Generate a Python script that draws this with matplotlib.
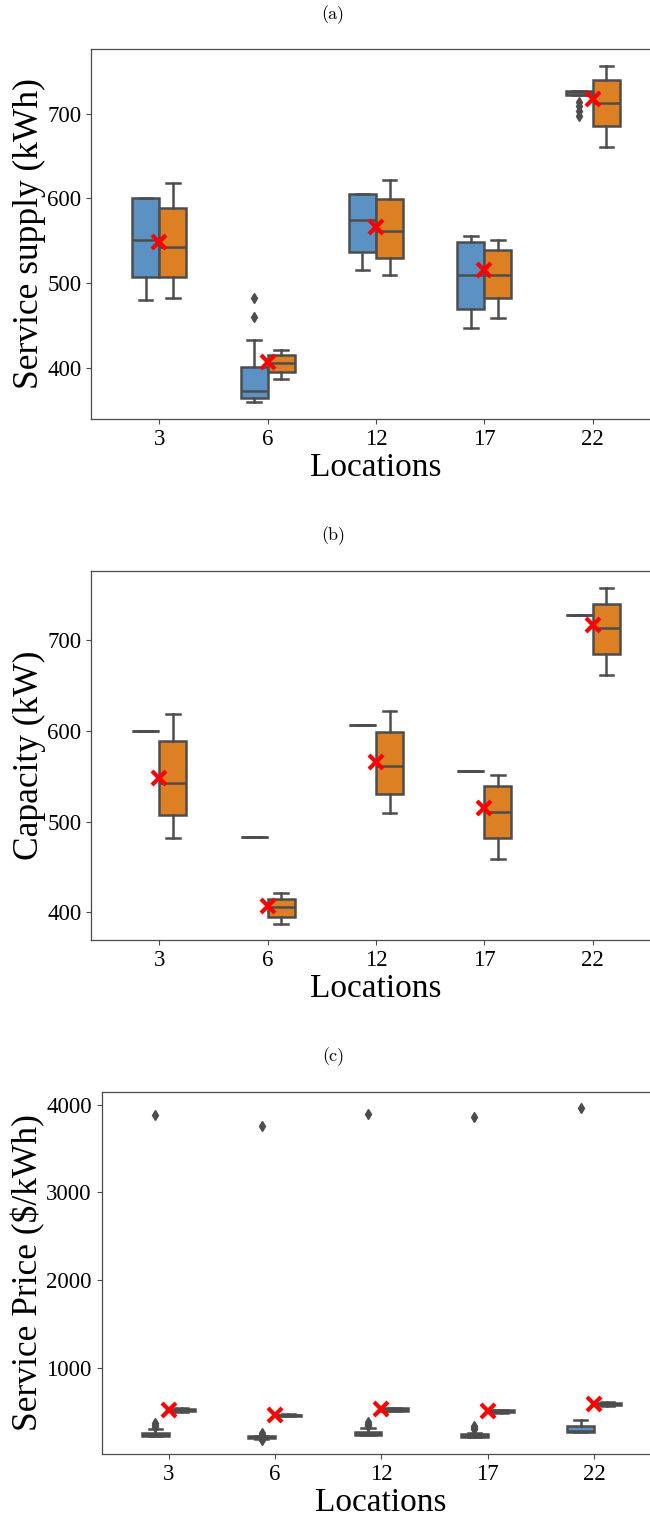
import matplotlib
matplotlib.use("Agg")
import matplotlib.pyplot as plt
import numpy as np

# ---------------- data ----------------
locations = ["3", "6", "12", "17", "22"]

# (a) Service supply (kWh) -- first (blue) series
supply_blue_whislo = [480, 360, 515, 447, 722.5]
supply_blue_q1 = [507, 364, 537, 470, 722.5]
supply_blue_med = [551, 372, 574, 510, 726]
supply_blue_q3 = [600, 401, 605, 549, 726.5]
supply_blue_whishi = [600, 433, 605, 556, 726.5]
supply_blue_fliers = [[], [460, 482], [], [], [697, 703, 709, 714]]

# (a)/(b) second (orange) series
orange_whislo = [482, 387, 509, 459, 661]
orange_q1 = [507, 395, 530, 482, 685]
orange_med = [543, 406, 561, 510, 713]
orange_q3 = [589, 415, 599, 539, 740]
orange_whishi = [618, 421, 622, 551, 757]
orange_fliers = [[], [], [], [], []]
orange_mean = [548, 407, 566, 515, 717]

# (b) Capacity (kW) -- blue series is constant per location
capacity_blue = [600, 483, 606, 556, 727]

# (c) Service Price ($/kWh)
price_blue_whislo = [230, 195, 235, 218, 275]
price_blue_q1 = [230, 198, 235, 218, 275]
price_blue_med = [240, 210, 245, 230, 282]
price_blue_q3 = [262, 222, 272, 245, 335]
price_blue_whishi = [309, 228, 316, 255, 411]
price_blue_fliers = [[330, 350, 370, 3886], [180, 240, 255, 3753],
                     [340, 360, 380, 3894], [300, 320, 340, 3856], [3962]]
price_orange_whislo = [500, 452, 505, 490, 570]
price_orange_q1 = [505, 455, 510, 495, 575]
price_orange_med = [520, 462, 525, 505, 590]
price_orange_q3 = [538, 468, 540, 520, 605]
price_orange_whishi = [545, 472, 548, 525, 610]
price_orange_mean = [525, 468, 533, 506, 594]

# ---------------- style ----------------
BLUE = "#5b92c3"
ORANGE = "#dd8024"
LINE = "#4d4d4d"
LW = 1.8
SERIF = ["Liberation Serif", "DejaVu Serif"]
plt.rcParams["font.family"] = SERIF
plt.rcParams["axes.edgecolor"] = "#4a4a4a"
plt.rcParams["axes.linewidth"] = 0.9


def make_stats(whislo, q1, med, q3, whishi, fliers):
    return [dict(whislo=a, q1=b, med=c, q3=d, whishi=e, fliers=f)
            for a, b, c, d, e, f in zip(whislo, q1, med, q3, whishi, fliers)]


def draw(ax, blue_stats, orange_stats, means, ylim, ylabel):
    x = np.arange(len(locations))
    for st, off, col in [(blue_stats, -0.125, BLUE), (orange_stats, 0.125, ORANGE)]:
        ax.bxp(st, positions=x + off, widths=0.25, patch_artist=True,
               manage_ticks=False, showfliers=True,
               boxprops=dict(facecolor=col, edgecolor=LINE, linewidth=LW),
               medianprops=dict(color=LINE, linewidth=LW),
               whiskerprops=dict(color=LINE, linewidth=LW),
               capprops=dict(color=LINE, linewidth=LW),
               flierprops=dict(marker="d", markerfacecolor=LINE,
                               markeredgecolor=LINE, markersize=5.5))
    ax.plot(x, means, linestyle="none", marker="x", color="red",
            markersize=10, markeredgewidth=3.0, zorder=6)
    ax.set_xticks(x)
    ax.set_xticklabels(locations)
    ax.set_xlim(-0.63, 4.63)
    ax.set_ylim(*ylim)
    ax.set_xlabel("Locations", fontsize=24, labelpad=2)
    ax.set_ylabel(ylabel, fontsize=25.5, labelpad=0.5)
    ax.tick_params(labelsize=16.5, length=3.5, width=0.8, color="#4a4a4a")


W, H = 650, 1518
fig = plt.figure(figsize=(W / 100, H / 100), dpi=100)


def axes_px(left, right, top, bottom):
    return fig.add_axes([left / W, 1 - bottom / H, (right - left) / W, (bottom - top) / H])


ax_a = axes_px(91, 661, 49, 419)
ax_b = axes_px(91, 661, 571, 940)
ax_c = axes_px(101.5, 661, 1092, 1454)

orange_stats = make_stats(orange_whislo, orange_q1, orange_med, orange_q3,
                          orange_whishi, orange_fliers)

draw(ax_a,
     make_stats(supply_blue_whislo, supply_blue_q1, supply_blue_med,
                supply_blue_q3, supply_blue_whishi, supply_blue_fliers),
     orange_stats, orange_mean, (339.5, 776.5), "Service supply (kWh)")

draw(ax_b,
     make_stats(capacity_blue, capacity_blue, capacity_blue, capacity_blue,
                capacity_blue, [[] for _ in capacity_blue]),
     orange_stats, orange_mean, (369.5, 776), "Capacity (kW)")

draw(ax_c,
     make_stats(price_blue_whislo, price_blue_q1, price_blue_med,
                price_blue_q3, price_blue_whishi, price_blue_fliers),
     make_stats(price_orange_whislo, price_orange_q1, price_orange_med,
                price_orange_q3, price_orange_whishi, [[] for _ in locations]),
     price_orange_mean, (20, 4145), "Service Price ($/kWh)")
ax_c.set_yticks([1000, 2000, 3000, 4000])

for lab, ypx in [("(a)", 15), ("(b)", 536), ("(c)", 1057)]:
    fig.text(333 / W, 1 - ypx / H, lab, ha="center", va="center",
             fontsize=13, family=["cmr10", "DejaVu Serif"])

fig.savefig("out.png", dpi=100)
